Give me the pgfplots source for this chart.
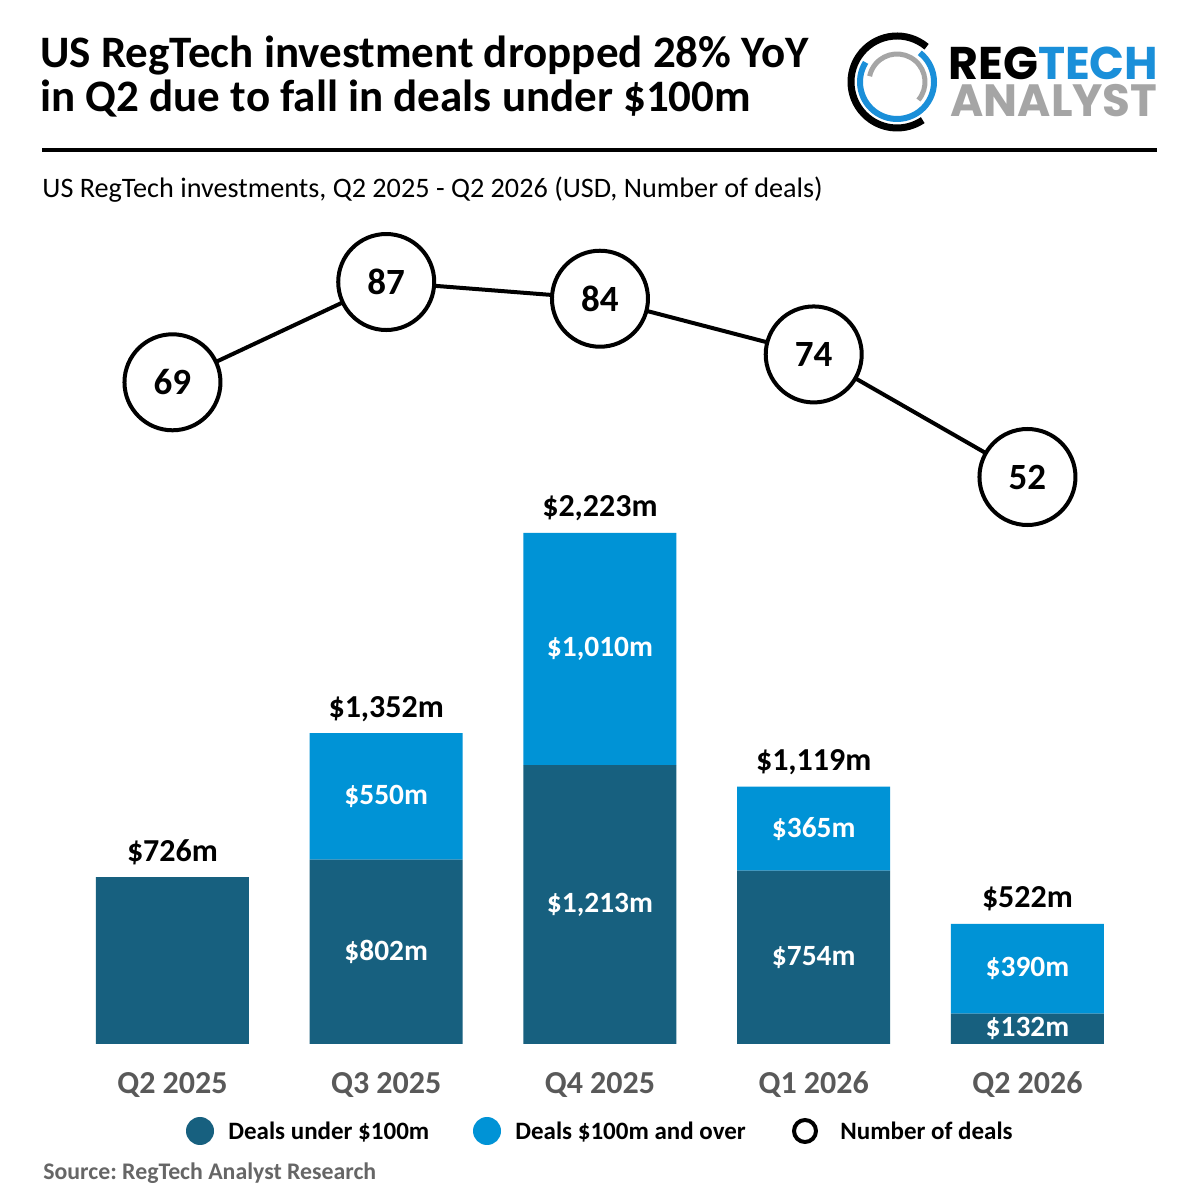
\documentclass[border=0pt]{standalone}
\usepackage{fontspec}
\setmainfont{Carlito}
\newfontfamily\logofont{Poppins}
\usepackage{pgfplots}
\usepackage{pgfplotstable}
\pgfplotsset{compat=1.18}
\pgfkeys{/pgf/number format/.cd, fixed, precision=0, 1000 sep={,}, assume math mode=true}

\definecolor{underc}{HTML}{17607F}
\definecolor{overc}{HTML}{0093D6}
\definecolor{catgray}{HTML}{595959}
\definecolor{srcgray}{HTML}{666666}
\definecolor{logoblue}{HTML}{1A8FD9}
\definecolor{logogray}{HTML}{A5A5A5}

\newcommand{\fs}[2]{\fontsize{#1}{#2}\selectfont}

% investment (USD m) split by deal size, and number of deals
\pgfplotstableread{
q under over deals
0 726 0 69
1 802 550 87
2 1213 1010 84
3 754 365 74
4 132 390 52
}\regdata
\pgfplotstablecreatecol[expr={\thisrow{under}+\thisrow{over}}]{total}\regdata

\begin{document}
\frenchspacing
\begin{tikzpicture}[x=0.5pt,y=0.5pt]
\fill[white] (0,0) rectangle (1200,1200);

% heading
\node[anchor=base west, font=\bfseries\fs{22.5pt}{24pt}, inner sep=0] at (40,1132) {US RegTech investment dropped 28\% YoY};
\node[anchor=base west, font=\bfseries\fs{22.5pt}{24pt}, inner sep=0] at (40,1088) {in Q2 due to fall in deals under \$100m};
\draw[line width=2pt] (42,1050) -- (1157,1050);
\node[anchor=base west, font=\fs{14.1pt}{16pt}, inner sep=0] at (42,1002) {US RegTech investments, Q2 2025 - Q2 2026 (USD, Number of deals)};

% logo: rings and two-line word mark
\draw[black, line width=3.5pt] (897,1118) ++(50:46) arc[start angle=50, end angle=304, radius=46];
\draw[logoblue, line width=3pt] (897,1118) ++(-212:37) arc[start angle=-212, end angle=52, radius=37];
\draw[logogray, line width=2.5pt] (897,1118) ++(-40:28) arc[start angle=-40, end angle=168, radius=28];
\node[anchor=base west, inner sep=0] at (948,1120) {%
  \rlap{\raisebox{-18.5pt}[0pt][0pt]{\hspace{1pt}\resizebox{103.5pt}{!}{\logofont\bfseries\color{logogray}ANALYST}}}%
  \resizebox{105pt}{!}{\logofont\bfseries REG\textcolor{logoblue}{TECH}}};

% stacked bars
\begin{axis}[
  at={(32.8pt,78pt)}, anchor=south west,
  scale only axis, width=534.375pt, height=287.375pt,
  xmin=-0.5, xmax=4.5, ymin=0, ymax=2500,
  ybar stacked, bar width=76.5pt,
  axis line style={draw=none}, major tick style={draw=none},
  ytick=\empty,
  xtick={0,1,2,3,4},
  xticklabels={Q2 2025, Q3 2025, Q4 2025, Q1 2026, Q2 2026},
  xticklabel style={anchor=base, yshift=-24.5pt, font=\bfseries\fs{16pt}{18pt}, text=catgray},
  clip=false,
  point meta=rawy,
  nodes near coords={\ifdim\ov pt<1pt\else\$\pgfmathprintnumber{\pgfplotspointmeta}m\fi},
  visualization depends on={\thisrow{over} \as \ov},
  every node near coord/.append style={anchor=center, text=white,
     font=\bfseries\fs{14.7pt}{16pt}},
]
\addplot[fill=underc, draw=none] table[x=q, y=under] {\regdata};
\addplot[fill=overc, draw=none] table[x=q, y=over] {\regdata};
\end{axis}

% totals above the bars
\begin{axis}[
  at={(32.8pt,78pt)}, anchor=south west,
  scale only axis, width=534.375pt, height=287.375pt,
  xmin=-0.5, xmax=4.5, ymin=0, ymax=2500,
  hide axis, clip=false,
]
\addplot[draw=none, mark=none, point meta=y,
  nodes near coords={\$\pgfmathprintnumber{\pgfplotspointmeta}m},
  every node near coord/.append style={anchor=base, yshift=8pt, text=black,
     font=\bfseries\fs{16pt}{18pt}}]
  table[x=q, y=total] {\regdata};
\end{axis}

% number of deals
\begin{axis}[
  at={(32.8pt,216.65pt)}, anchor=south west,
  scale only axis, width=534.375pt, height=278.55pt,
  xmin=-0.5, xmax=4.5, ymin=0, ymax=100,
  hide axis, clip=false,
]
\addplot[black, line width=2pt, mark=*, mark size=24pt,
  mark options={fill=white, draw=black, line width=2pt},
  point meta=y, nodes near coords,
  every node near coord/.append style={anchor=center, text=black,
     font=\bfseries\fs{18.5pt}{20pt}}]
  table[x=q, y=deals] {\regdata};
\end{axis}

% legend
\fill[underc] (200,69) circle[radius=14];
\node[anchor=base west, inner sep=0, font=\bfseries\fs{12.5pt}{14pt}] at (228,61) {Deals under \$100m};
\fill[overc] (487,69) circle[radius=14];
\node[anchor=base west, inner sep=0, font=\bfseries\fs{12.5pt}{14pt}] at (515,61) {Deals \$100m and over};
\draw[black, line width=2pt, fill=white] (805,69) circle[radius=11];
\node[anchor=base west, inner sep=0, font=\bfseries\fs{12.5pt}{14pt}] at (840,61) {Number of deals};

% source
\node[anchor=base west, inner sep=0, font=\bfseries\fs{11.9pt}{13pt}, text=srcgray] at (43,20) {Source: RegTech Analyst Research};
\end{tikzpicture}
\end{document}
